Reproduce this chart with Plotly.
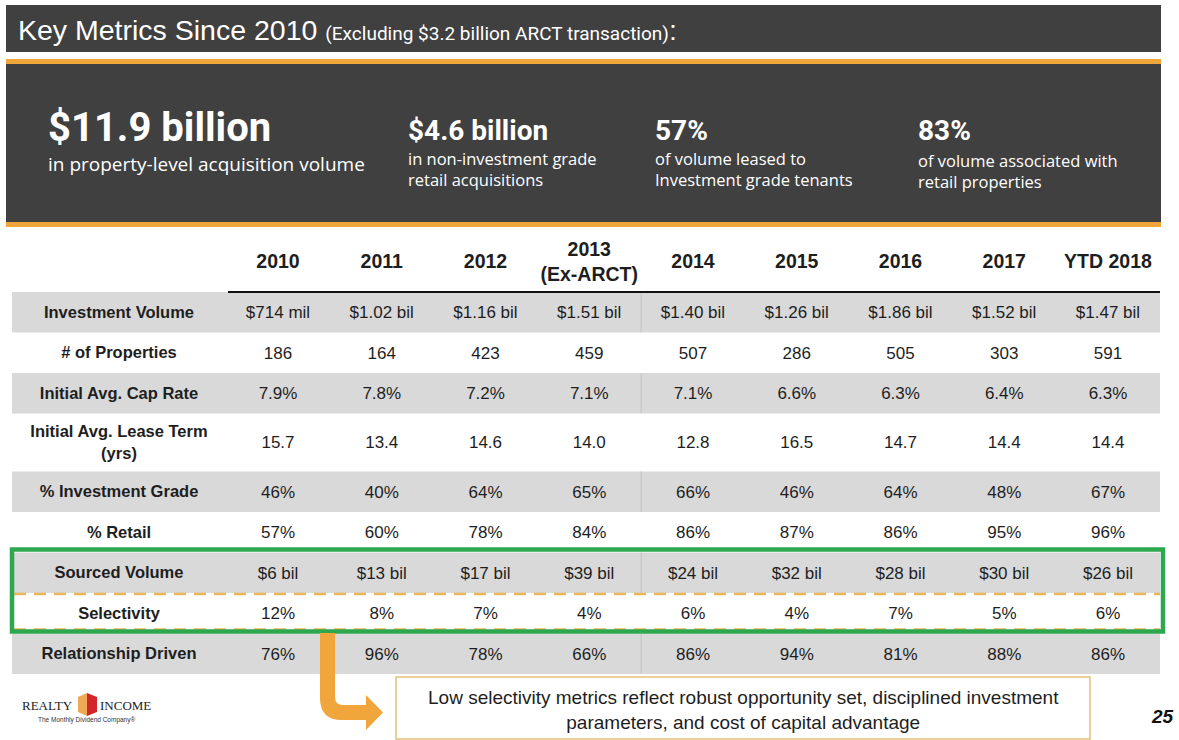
import plotly.graph_objects as go

# ---------------- data ----------------
years = ["2010", "2011", "2012", "2013<br>(Ex-ARCT)", "2014", "2015", "2016", "2017", "YTD 2018"]
metrics = ["Investment Volume", "# of Properties", "Initial Avg. Cap Rate",
           "Initial Avg. Lease Term<br>(yrs)", "% Investment Grade", "% Retail",
           "Sourced Volume", "Selectivity", "Relationship Driven"]
investment_volume = ["$714 mil", "$1.02 bil", "$1.16 bil", "$1.51 bil", "$1.40 bil",
                     "$1.26 bil", "$1.86 bil", "$1.52 bil", "$1.47 bil"]
num_properties = [186, 164, 423, 459, 507, 286, 505, 303, 591]
cap_rate = [7.9, 7.8, 7.2, 7.1, 7.1, 6.6, 6.3, 6.4, 6.3]
lease_term = [15.7, 13.4, 14.6, 14.0, 12.8, 16.5, 14.7, 14.4, 14.4]
pct_investment_grade = [46, 40, 64, 65, 66, 46, 64, 48, 67]
pct_retail = [57, 60, 78, 84, 86, 87, 86, 95, 96]
sourced_volume_bil = [6, 13, 17, 39, 24, 32, 28, 30, 26]
selectivity = [12, 8, 7, 4, 6, 4, 7, 5, 6]
relationship_driven = [76, 96, 78, 66, 86, 94, 81, 88, 86]

headline_values = ["$11.9 billion", "$4.6 billion", "57%", "83%"]
headline_desc = ["in property-level acquisition volume",
                 "in non-investment grade<br>retail acquisitions",
                 "of volume leased to<br>Investment grade tenants",
                 "of volume associated with<br>retail properties"]

title_main = "Key Metrics Since 2010"
title_sub = "(Excluding $3.2 billion ARCT transaction)"
callout_text = ("Low selectivity metrics reflect robust opportunity set, disciplined investment<br>"
                "parameters, and cost of capital advantage")
page_number = "25"

# ---------------- formatting ----------------
rows = [
    investment_volume,
    [str(v) for v in num_properties],
    [f"{v:.1f}%" for v in cap_rate],
    [f"{v:.1f}" for v in lease_term],
    [f"{v}%" for v in pct_investment_grade],
    [f"{v}%" for v in pct_retail],
    [f"${v} bil" for v in sourced_volume_bil],
    [f"{v}%" for v in selectivity],
    [f"{v}%" for v in relationship_driven],
]

W, H = 1179, 740
DARK = "#404040"
ORANGE = "#F0A63A"
GRAY = "#D9D9D9"
GREEN = "#2EA84E"
DASH = "#EDB55A"
TXT = "#1E1E1E"
SANS = "Liberation Sans, Arial, sans-serif"


def X(px):
    return px / W


def Y(py):
    return 1 - py / H


# table geometry (x axis in column units, y axis in pixels from top)
COL_W = 103.75
COL0 = 278.0


def xu(px):
    return (px - COL0) / COL_W


row_h = [40.5, 40.5, 40.5, 58, 40.5, 40.5, 40.5, 40.5, 40.5]
table_top = 292.0
bounds = [table_top]
for h in row_h:
    bounds.append(bounds[-1] + h)
centers = [(bounds[i] + bounds[i + 1]) / 2 for i in range(len(row_h))]
TEXT_DY = 1.5
text_y = [c + TEXT_DY for c in centers]
header_y = 262 + TEXT_DY
label_x = xu(119)
col_x = list(range(len(years)))

fig = go.Figure()

# header
fig.add_trace(go.Scatter(
    x=col_x, y=[header_y] * len(years), mode="text",
    text=[f"<b>{y}</b>" for y in years],
    textfont=dict(family=SANS, size=19.5, color=TXT),
    hoverinfo="skip", showlegend=False, cliponaxis=False))

# row labels
fig.add_trace(go.Scatter(
    x=[label_x] * len(metrics), y=text_y, mode="text",
    text=[f"<b>{m}</b>" for m in metrics],
    textfont=dict(family=SANS, size=16.5, color=TXT),
    hoverinfo="skip", showlegend=False, cliponaxis=False))

# values
for i, vals in enumerate(rows):
    fig.add_trace(go.Scatter(
        x=col_x, y=[text_y[i]] * len(vals), mode="text", text=vals,
        textfont=dict(family=SANS, size=17, color=TXT),
        hoverinfo="skip", showlegend=False, cliponaxis=False))

shapes = []
# title bar
shapes.append(dict(type="rect", xref="paper", yref="paper", x0=X(6), x1=X(1161), y0=Y(52), y1=Y(5),
                   fillcolor=DARK, line=dict(width=0), layer="below"))
# banner
shapes.append(dict(type="rect", xref="paper", yref="paper", x0=X(6), x1=X(1161), y0=Y(227), y1=Y(59),
                   fillcolor=ORANGE, line=dict(width=0), layer="below"))
shapes.append(dict(type="rect", xref="paper", yref="paper", x0=X(6), x1=X(1161), y0=Y(222), y1=Y(64),
                   fillcolor=DARK, line=dict(width=0), layer="below"))

# table gray rows
tl, tr = xu(12), xu(1160)
for i in range(len(row_h)):
    if i % 2 == 0:
        shapes.append(dict(type="rect", xref="x", yref="y", x0=tl, x1=tr, y0=bounds[i], y1=bounds[i + 1],
                           fillcolor=GRAY, line=dict(width=0), layer="below"))
        shapes.append(dict(type="line", xref="x", yref="y", x0=3.5, x1=3.5, y0=bounds[i], y1=bounds[i + 1],
                           line=dict(color="#C4C4C4", width=1), layer="below"))
# header underline
shapes.append(dict(type="line", xref="x", yref="y", x0=xu(228), x1=tr, y0=table_top, y1=table_top,
                   line=dict(color="#111111", width=2)))
# dashed separators
for yy in (bounds[7] + 1, bounds[8] - 4):
    shapes.append(dict(type="line", xref="x", yref="y", x0=xu(14), x1=xu(1160), y0=yy, y1=yy,
                       line=dict(color=DASH, width=2.5, dash="12px,8px")))
# green box
shapes.append(dict(type="rect", xref="x", yref="y", x0=xu(12), x1=xu(1163), y0=bounds[6] - 3, y1=bounds[8] - 2,
                   line=dict(color=GREEN, width=4.5), fillcolor="rgba(0,0,0,0)"))

# arrow
pts = [("M", 320, 633), ("L", 320, 698), ("Q", 320, 720, 342, 720), ("L", 366, 720), ("L", 366, 730),
       ("L", 383, 712.5), ("L", 366, 695), ("L", 366, 705), ("L", 343, 705), ("Q", 335, 705, 335, 697),
       ("L", 335, 633)]
path = ""
for p in pts:
    cmd = p[0]
    coords = p[1:]
    s = " ".join(f"{X(coords[k]):.5f},{Y(coords[k + 1]):.5f}" for k in range(0, len(coords), 2))
    path += f"{cmd}{s} "
path += "Z"
shapes.append(dict(type="path", xref="paper", yref="paper", path=path, fillcolor=ORANGE,
                   line=dict(width=0)))

# callout box
shapes.append(dict(type="rect", xref="paper", yref="paper", x0=X(396), x1=X(1090), y0=Y(739), y1=Y(677),
                   fillcolor="white", line=dict(color="#E3C07C", width=1.5)))

# logo icon
shapes.append(dict(type="path", xref="paper", yref="paper",
                   path=f"M{X(78)},{Y(697)} L{X(87)},{Y(693)} L{X(87)},{Y(716)} L{X(78)},{Y(712)} Z",
                   fillcolor="#EDA955", line=dict(width=0)))
shapes.append(dict(type="path", xref="paper", yref="paper",
                   path=f"M{X(87)},{Y(693)} L{X(97)},{Y(697)} L{X(97)},{Y(712)} L{X(87)},{Y(716)} Z",
                   fillcolor="#D3262C", line=dict(width=0)))

annotations = []
# title
annotations.append(dict(
    xref="paper", yref="paper", x=X(16), y=Y(30), xanchor="left", yanchor="middle", showarrow=False,
    text=(f"{title_main} <span style='font-size:19px;font-family:Roboto'>{title_sub}</span>:"),
    font=dict(family=SANS, size=28.5, color="white")))

# headline stats
hx = [46, 406, 653, 916]
hv_y = [127, 130, 130, 130]
hv_size = [40, 28, 28, 28]
hd_y = [164, 168.5, 168.5, 170.5]
hd_size = [19, 16.5, 16.5, 16.5]
for i in range(len(headline_values)):
    annotations.append(dict(
        xref="paper", yref="paper", x=X(hx[i]), y=Y(hv_y[i]), xanchor="left", yanchor="middle",
        showarrow=False, text=f"<b>{headline_values[i]}</b>",
        font=dict(family="Roboto, sans-serif", size=hv_size[i], color="white")))
    annotations.append(dict(
        xref="paper", yref="paper", x=X(hx[i]), y=Y(hd_y[i]), xanchor="left", yanchor="middle",
        showarrow=False, text=headline_desc[i], align="left",
        font=dict(family="Open Sans, sans-serif", size=hd_size[i], color="white")))

# callout text
annotations.append(dict(
    xref="paper", yref="paper", x=X(743), y=Y(710), xanchor="center", yanchor="middle",
    showarrow=False, text=callout_text, align="center",
    font=dict(family=SANS, size=19, color=TXT)))

# logo text
annotations.append(dict(xref="paper", yref="paper", x=X(75), y=Y(705), xanchor="right", yanchor="middle",
                        showarrow=False, text="REALTY",
                        font=dict(family="Liberation Serif, serif", size=13, color="#222222")))
annotations.append(dict(xref="paper", yref="paper", x=X(98), y=Y(705), xanchor="left", yanchor="middle",
                        showarrow=False, text="INCOME",
                        font=dict(family="Liberation Serif, serif", size=13, color="#222222")))
annotations.append(dict(xref="paper", yref="paper", x=X(87), y=Y(720), xanchor="center", yanchor="middle",
                        showarrow=False, text="The Monthly Dividend Company®",
                        font=dict(family=SANS, size=6.5, color="#333333")))

# page number
annotations.append(dict(xref="paper", yref="paper", x=X(1162), y=Y(716), xanchor="center", yanchor="middle",
                        showarrow=False, text=f"<b><i>{page_number}</i></b>",
                        font=dict(family=SANS, size=19, color="#111111")))

fig.update_layout(
    width=W, height=H,
    margin=dict(l=0, r=0, t=0, b=0),
    paper_bgcolor="white", plot_bgcolor="white",
    xaxis=dict(range=[xu(0), xu(W)], visible=False, fixedrange=True),
    yaxis=dict(range=[H, 0], visible=False, fixedrange=True),
    shapes=shapes, annotations=annotations,
    showlegend=False,
)

fig.write_html("out.html", config={"displayModeBar": False},
               post_script="document.body.style.margin='0';document.body.style.overflow='hidden';")
